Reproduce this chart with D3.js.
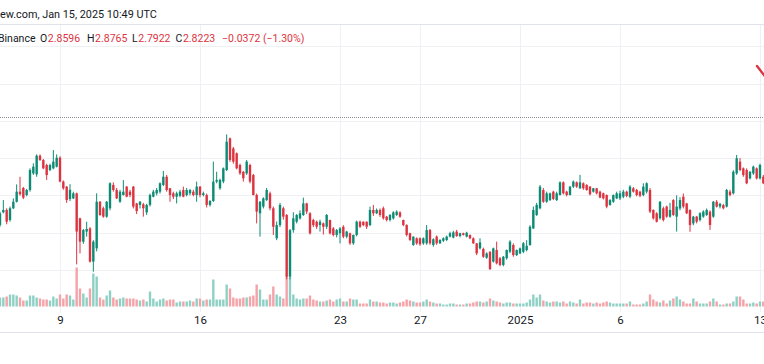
<!DOCTYPE html>
<html><head><meta charset="utf-8">
<script src="https://cdn.jsdelivr.net/npm/d3@7"></script>
<style>html,body{margin:0;padding:0;background:#fff;overflow:hidden}</style>
</head><body><svg id="c" width="764" height="364"></svg>
<script>
// ---- data (XRPUSDT, Binance, 4h candles, starting 2024-12-06 00:00 UTC) ----
const startTime = Date.UTC(2024, 11, 6, 0, 0);
const barHours = 4;
const opens = [2.241,2.309,2.322,2.268,2.331,2.366,2.420,2.440,2.402,2.429,2.518,2.513,2.613,2.590,2.563,2.536,2.545,2.554,2.602,2.474,2.447,2.380,2.384,2.411,2.277,2.152,2.206,2.223,2.045,2.116,2.366,2.331,2.286,2.331,2.456,2.429,2.366,2.402,2.447,
2.420,2.447,2.357,2.349,2.352,2.309,2.349,2.393,2.411,2.420,2.456,2.500,2.438,2.411,2.393,2.398,2.429,2.402,2.411,2.420,2.402,2.447,2.402,2.402,2.349,2.370,2.474,2.438,2.474,2.536,2.706,2.652,2.626,2.563,2.527,2.518,2.563,2.509,
2.402,2.304,2.340,2.375,2.411,2.331,2.170,2.241,2.331,2.295,1.964,2.214,2.259,2.277,2.295,2.357,2.304,2.268,2.259,2.241,2.250,2.232,2.268,2.223,2.188,2.197,2.232,2.179,2.197,2.143,2.188,2.259,2.259,2.259,2.241,2.322,2.304,
2.322,2.331,2.286,2.268,2.277,2.295,2.309,2.268,2.241,2.197,2.134,2.170,2.170,2.143,2.143,2.214,2.134,2.179,2.143,2.157,2.161,2.179,2.174,2.206,2.182,2.197,2.179,2.188,2.170,2.143,2.116,2.113,2.066,2.098,2.045,2.107,2.063,2.027,
2.063,2.098,2.134,2.080,2.089,2.098,2.107,2.134,2.223,2.295,2.331,2.429,2.366,2.375,2.420,2.375,2.402,2.470,2.420,2.402,2.447,2.470,2.438,2.465,2.456,2.447,2.420,2.438,2.420,2.411,2.402,2.349,2.366,2.384,2.384,2.393,2.420,2.393,
2.438,2.429,2.420,2.402,2.420,2.429,2.322,2.304,2.277,2.331,2.340,2.286,2.375,2.286,2.330,2.393,2.357,2.322,2.250,2.286,2.268,2.286,2.295,2.313,2.286,2.366,2.340,2.348,2.340,2.420,2.411,2.518,2.581,2.545,2.536,2.491,2.518,2.545,2.491,2.500];
const highs = [2.313,2.375,2.331,2.340,2.384,2.459,2.500,2.445,2.435,2.545,2.572,2.620,2.620,2.595,2.570,2.570,2.643,2.620,2.610,2.480,2.450,2.460,2.420,2.415,2.280,2.220,2.259,2.230,2.160,2.411,2.370,2.340,2.370,2.470,2.470,2.440,2.430,2.482,2.450,
2.430,2.450,2.360,2.370,2.360,2.355,2.410,2.430,2.440,2.470,2.531,2.510,2.440,2.420,2.420,2.430,2.447,2.440,2.435,2.430,2.474,2.450,2.420,2.410,2.375,2.581,2.527,2.490,2.550,2.727,2.710,2.660,2.630,2.570,2.530,2.590,2.570,2.515,
2.410,2.370,2.390,2.440,2.420,2.340,2.260,2.360,2.340,2.300,2.220,2.310,2.300,2.320,2.388,2.360,2.310,2.275,2.265,2.270,2.255,2.300,2.270,2.230,2.220,2.230,2.240,2.210,2.200,2.190,2.265,2.265,2.260,2.260,2.340,2.349,2.330,
2.330,2.340,2.290,2.300,2.315,2.320,2.315,2.270,2.245,2.200,2.180,2.175,2.175,2.175,2.241,2.220,2.170,2.185,2.165,2.175,2.185,2.205,2.210,2.215,2.200,2.200,2.205,2.190,2.175,2.145,2.170,2.120,2.095,2.100,2.120,2.152,2.070,2.075,
2.110,2.160,2.143,2.110,2.120,2.150,2.160,2.240,2.340,2.360,2.456,2.440,2.420,2.415,2.425,2.420,2.475,2.475,2.425,2.450,2.480,2.475,2.510,2.470,2.460,2.450,2.440,2.440,2.425,2.415,2.405,2.380,2.405,2.420,2.425,2.430,2.425,2.455,
2.445,2.435,2.425,2.465,2.470,2.440,2.325,2.310,2.370,2.340,2.345,2.360,2.380,2.400,2.390,2.410,2.360,2.325,2.290,2.290,2.310,2.320,2.330,2.320,2.370,2.375,2.360,2.355,2.435,2.430,2.535,2.617,2.600,2.550,2.545,2.530,2.560,2.550,2.570,2.510];
const lows = [2.232,2.304,2.245,2.259,2.327,2.362,2.399,2.380,2.395,2.420,2.510,2.500,2.585,2.540,2.483,2.530,2.540,2.550,2.470,2.430,2.360,2.370,2.380,2.030,2.089,2.140,2.179,2.040,1.991,2.100,2.290,2.280,2.280,2.320,2.420,2.380,2.360,2.400,2.390,
2.390,2.330,2.300,2.330,2.286,2.295,2.340,2.390,2.400,2.410,2.450,2.420,2.366,2.380,2.357,2.390,2.390,2.395,2.400,2.395,2.366,2.390,2.395,2.335,2.340,2.365,2.465,2.430,2.465,2.530,2.580,2.570,2.540,2.510,2.474,2.510,2.465,2.400,
2.250,2.179,2.330,2.370,2.320,2.188,2.160,2.230,2.270,1.950,1.950,2.200,2.250,2.270,2.290,2.300,2.190,2.230,2.220,2.206,2.190,2.220,2.190,2.180,2.175,2.143,2.170,2.170,2.135,2.135,2.180,2.225,2.235,2.220,2.235,2.290,2.300,
2.285,2.270,2.260,2.260,2.270,2.290,2.280,2.235,2.180,2.155,2.130,2.135,2.130,2.135,2.135,2.135,2.125,2.135,2.140,2.150,2.155,2.175,2.170,2.178,2.175,2.185,2.175,2.165,2.140,2.080,2.110,2.065,2.060,2.000,2.040,2.030,2.020,2.020,
2.055,2.090,2.071,2.075,2.085,2.090,2.100,2.130,2.220,2.290,2.325,2.360,2.360,2.370,2.375,2.370,2.400,2.405,2.395,2.400,2.440,2.440,2.435,2.430,2.425,2.400,2.415,2.405,2.385,2.378,2.331,2.345,2.360,2.380,2.375,2.385,2.390,2.385,
2.415,2.395,2.390,2.395,2.410,2.305,2.270,2.255,2.270,2.260,2.280,2.280,2.290,2.206,2.320,2.330,2.300,2.205,2.240,2.250,2.260,2.280,2.290,2.215,2.280,2.335,2.330,2.325,2.335,2.395,2.405,2.510,2.530,2.500,2.460,2.485,2.510,2.485,2.485,2.460];
const closes = [2.304,2.322,2.259,2.331,2.366,2.420,2.406,2.388,2.429,2.536,2.554,2.613,2.590,2.545,2.509,2.563,2.581,2.602,2.474,2.438,2.375,2.430,2.411,2.206,2.152,2.214,2.220,2.045,2.152,2.366,2.295,2.286,2.366,2.465,2.429,2.384,2.420,2.420,2.393,
2.402,2.340,2.316,2.366,2.331,2.349,2.402,2.420,2.429,2.465,2.500,2.429,2.402,2.393,2.411,2.420,2.393,2.429,2.429,2.402,2.447,2.402,2.411,2.349,2.370,2.474,2.483,2.483,2.545,2.688,2.590,2.581,2.545,2.518,2.492,2.581,2.474,2.402,
2.313,2.366,2.384,2.429,2.331,2.232,2.241,2.349,2.286,1.964,2.214,2.277,2.295,2.304,2.357,2.313,2.197,2.241,2.232,2.259,2.232,2.295,2.197,2.188,2.214,2.223,2.179,2.206,2.143,2.188,2.259,2.232,2.241,2.232,2.322,2.304,2.322,
2.295,2.277,2.268,2.295,2.309,2.313,2.286,2.241,2.188,2.161,2.179,2.143,2.138,2.170,2.214,2.143,2.165,2.143,2.161,2.170,2.179,2.197,2.202,2.182,2.197,2.188,2.200,2.170,2.143,2.089,2.148,2.071,2.089,2.005,2.116,2.036,2.027,2.071,
2.107,2.152,2.080,2.107,2.116,2.143,2.130,2.232,2.322,2.349,2.447,2.366,2.411,2.411,2.381,2.411,2.470,2.411,2.402,2.447,2.474,2.447,2.470,2.438,2.429,2.406,2.438,2.411,2.388,2.384,2.340,2.375,2.402,2.411,2.411,2.420,2.397,2.447,
2.420,2.402,2.398,2.447,2.465,2.313,2.277,2.259,2.366,2.268,2.286,2.322,2.295,2.340,2.375,2.340,2.304,2.241,2.286,2.259,2.304,2.313,2.322,2.241,2.366,2.340,2.355,2.331,2.429,2.402,2.527,2.599,2.536,2.509,2.465,2.527,2.554,2.491,2.563,2.465];
const volumes = [90,90,100,120,120,110,90,60,60,110,110,90,80,70,70,60,100,80,120,80,120,110,70,390,180,130,90,180,330,300,90,70,110,160,90,70,80,90,80,
80,80,70,60,70,50,150,80,50,70,80,60,70,70,40,50,50,50,60,50,80,80,60,70,70,270,70,70,70,220,180,90,80,80,90,90,100,110,
220,170,70,70,120,200,120,100,80,300,290,120,80,70,80,80,110,70,60,50,50,60,70,50,70,80,50,50,80,70,70,30,30,30,70,50,50,
40,40,30,40,40,30,40,50,70,60,50,40,40,50,70,50,40,30,30,20,20,30,30,20,20,20,30,30,40,50,50,40,50,80,60,50,40,30,
40,40,30,30,30,30,40,70,120,90,120,60,50,40,50,50,40,50,30,50,40,30,70,30,40,40,30,40,30,40,50,40,30,30,30,30,30,50,
20,20,20,30,50,120,70,50,40,60,30,60,80,100,70,50,30,30,80,50,30,30,30,50,80,50,20,20,30,30,50,100,100,70,30,30,40,30,50,50];
const tickDates = [Date.UTC(2024,11,9), Date.UTC(2024,11,16), Date.UTC(2024,11,23), Date.UTC(2024,11,27), Date.UTC(2025,0,1), Date.UTC(2025,0,6), Date.UTC(2025,0,13)];
const tickLabels = ["9", "16", "23", "27", "2025", "6", "13"];
const priceGrid = [2.0, 2.2, 2.4, 2.6, 2.8, 3.0, 3.2];
const lastClose = 2.8223;
const headerPrefix = "Published on TradingVi";
const headerSuffix = "ew.com, Jan 15, 2025 10:49 UTC";
const exchange = "Binance";
const ohlcLabels = ["O", "H", "L", "C"];
const ohlcValues = ["2.8596", "2.8765", "2.7922", "2.8223"];
const changeText = "\u22120.0372 (\u22121.30%)";

// ---- drawing ----
const W = 764, H = 364;
const UP = "#0e8a74", DOWN = "#dc3340";
const UPV = "#8fd0c5", DOWNV = "#f4a3a8";
const svg = d3.select("#c");
const font = "Roboto, 'Noto Sans', sans-serif";

const bars = opens.map((o, i) => ({
  t: new Date(startTime + i * barHours * 3600e3),
  o, h: highs[i], l: lows[i], c: closes[i], v: volumes[i]
}));

const x = d3.scaleUtc()
  .domain([new Date(startTime), new Date(startTime + 38.2 * 864e5)])
  .range([0, W]);
const y = d3.scaleLinear().domain([2.0, 3.2]).range([270, 46.2]);
const yv = d3.scaleLinear().domain([0, 400]).range([306.5, 266.5]);

// grid
const grid = svg.append("g");
grid.selectAll("line.h").data(priceGrid).join("line")
  .attr("x1", 0).attr("x2", W)
  .attr("y1", d => Math.round(y(d)) + 0.5).attr("y2", d => Math.round(y(d)) + 0.5)
  .attr("stroke", "#eef0f4").attr("stroke-width", 1);
grid.selectAll("line.v").data(tickDates).join("line")
  .attr("x1", d => Math.round(x(d)) + 0.5).attr("x2", d => Math.round(x(d)) + 0.5)
  .attr("y1", 24).attr("y2", 312)
  .attr("stroke", "#eef0f4").attr("stroke-width", 1);

// separator and bottom border
svg.append("line").attr("x1", 0).attr("x2", W).attr("y1", 24.5).attr("y2", 24.5)
  .attr("stroke", "#e0e3eb");
svg.append("line").attr("x1", 0).attr("x2", W).attr("y1", 332.5).attr("y2", 332.5)
  .attr("stroke", "#e0e3eb");

// volume
const bw = 2.4;
svg.append("g").selectAll("rect").data(bars).join("rect")
  .attr("x", d => x(d.t) - bw / 2)
  .attr("width", bw)
  .attr("y", d => yv(d.v))
  .attr("height", d => yv(0) - yv(d.v))
  .attr("fill", d => d.c >= d.o ? UPV : DOWNV);

// candles
const cg = svg.append("g");
cg.selectAll("line").data(bars).join("line")
  .attr("x1", d => x(d.t)).attr("x2", d => x(d.t))
  .attr("y1", d => y(d.h)).attr("y2", d => y(d.l))
  .attr("stroke", d => d.c >= d.o ? UP : DOWN).attr("stroke-width", 1);
cg.selectAll("rect").data(bars).join("rect")
  .attr("x", d => x(d.t) - bw / 2)
  .attr("width", bw)
  .attr("y", d => y(Math.max(d.o, d.c)))
  .attr("height", d => Math.max(1, Math.abs(y(d.o) - y(d.c))))
  .attr("fill", d => d.c >= d.o ? UP : DOWN);

// last price dotted line
svg.append("line").attr("x1", 0).attr("x2", W)
  .attr("y1", Math.round(y(lastClose)) + 0.5).attr("y2", Math.round(y(lastClose)) + 0.5)
  .attr("stroke", "#8a8d96").attr("stroke-width", 1).attr("stroke-dasharray", "1,1");

// red drawing mark at top right (partially cropped)
svg.append("line").attr("x1", 757).attr("y1", 66).attr("x2", 767).attr("y2", 79)
  .attr("stroke", DOWN).attr("stroke-width", 2.4).attr("stroke-linecap", "round");

// time axis
const axis = d3.axisBottom(x).tickValues(tickDates)
  .tickFormat((d, i) => tickLabels[i]).tickSize(0).tickPadding(0);
const ag = svg.append("g").attr("transform", "translate(0,316)").call(axis);
ag.select(".domain").remove();
ag.selectAll("text").attr("font-family", font).attr("font-size", 11.5)
  .attr("fill", "#131722").attr("dy", "0.71em");

// header line 1 (cropped at the left edge like the reference)
const h1 = svg.append("text").attr("y", 18).attr("font-family", font)
  .attr("font-size", 12).attr("fill", "#131722");
h1.append("tspan").attr("class", "pre").text(headerPrefix);
const suf = h1.append("tspan").attr("class", "suf").text(headerSuffix);
const sw = suf.node().getComputedTextLength();
h1.attr("font-size", 12 * 157 / sw);
const pw = h1.select(".pre").node().getComputedTextLength();
h1.attr("x", -pw);

// header line 2
const leg = svg.append("g").attr("font-family", font).attr("font-size", 10.5);
leg.append("text").attr("x", -2).attr("y", 42)
  .attr("fill", "#131722").text(exchange);
const lx = [40, 87, 132, 175.5];
ohlcLabels.forEach((lab, i) => {
  const t = leg.append("text").attr("x", lx[i]).attr("y", 42).attr("fill", "#131722").text(lab);
  const lw = t.node().getComputedTextLength();
  leg.append("text").attr("x", lx[i] + lw + 0.6).attr("y", 42).attr("fill", DOWN).text(ohlcValues[i]);
});
leg.append("text").attr("x", 222).attr("y", 42).attr("fill", DOWN).text(changeText);
</script>
</body></html>
